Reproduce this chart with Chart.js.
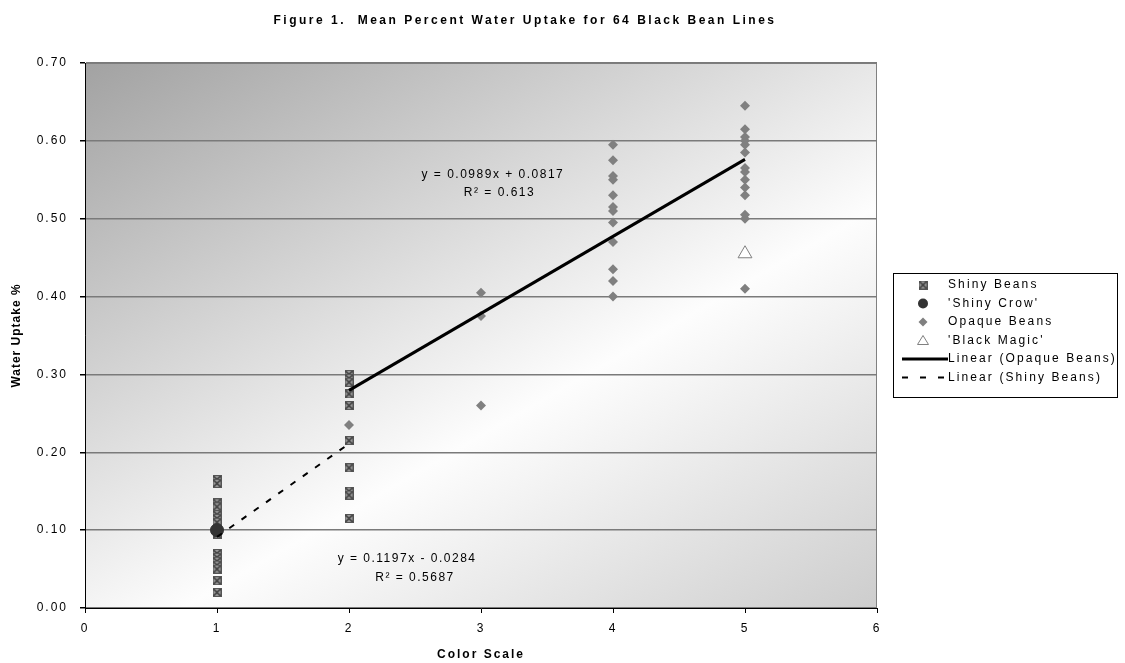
<!DOCTYPE html>
<html>
<head>
<meta charset="utf-8">
<script src="https://cdn.jsdelivr.net/npm/chart.js@4.4.0/dist/chart.umd.min.js"></script>
<style>
    html, body { margin: 0; padding: 0; background: #fff; }
    #wrap { width: 1125px; height: 663px; position: relative; }
</style>
</head>
<body>
<div id="wrap"><canvas id="beanChart"></canvas></div>
<script>
// values
const shinyAt1 = [0.165, 0.16, 0.135, 0.13, 0.12, 0.115, 0.11, 0.095, 0.07, 0.065, 0.06, 0.055, 0.05, 0.035, 0.02];
const shinyAt2 = [0.30, 0.295, 0.29, 0.275, 0.26, 0.215, 0.18, 0.15, 0.145, 0.115];
const shinyCrow = [{ x: 1, y: 0.10 }];
const opaqueAt2 = [0.235];
const opaqueAt3 = [0.405, 0.375, 0.26];
const opaqueAt4 = [0.595, 0.575, 0.555, 0.55, 0.53, 0.515, 0.51, 0.495, 0.47, 0.435, 0.42, 0.40];
const opaqueAt5 = [0.645, 0.615, 0.605, 0.60, 0.595, 0.585, 0.565, 0.56, 0.55, 0.54, 0.53, 0.505, 0.50, 0.41];
const blackMagic = [{ x: 5, y: 0.455 }];
// trend lines (end points of the fitted lines)
const opaqueTrend = [{ x: 2, y: 0.2795 }, { x: 5, y: 0.5762 }];
const shinyTrend = [{ x: 1, y: 0.0913 }, { x: 2, y: 0.2110 }];
const opaqueEq = ['y = 0.0989x + 0.0817', 'R² = 0.613'];
const shinyEq = ['y = 0.1197x - 0.0284', 'R² = 0.5687'];
const legendLabels = ['Shiny Beans', "'Shiny Crow'", 'Opaque Beans', "'Black Magic'", 'Linear (Opaque Beans)', 'Linear (Shiny Beans)'];

const FONT = '"Liberation Sans", Arial, sans-serif';

function pts(x, ys) {
    return ys.map(y => ({ x: x, y: y }));
}

// Excel style "x" marker: grey box with a dark cross
function makeXMarker() {
    const c = document.createElement('canvas');
    c.width = 9; c.height = 9;
    const g = c.getContext('2d');
    g.fillStyle = '#9a9a9a';
    g.fillRect(1, 1, 7, 7);
    g.strokeStyle = '#3c3c3c';
    g.lineWidth = 1.6;
    g.beginPath();
    g.moveTo(1, 1); g.lineTo(8, 8);
    g.moveTo(8, 1); g.lineTo(1, 8);
    g.stroke();
    g.lineWidth = 1;
    g.strokeStyle = '#555';
    g.strokeRect(0.5, 0.5, 8, 8);
    return c;
}
const xMarker = makeXMarker();

const chartDecor = {
    id: 'chartDecor',
    beforeDraw(chart) {
        const { ctx, chartArea: a } = chart;
        const w = a.right - a.left, h = a.bottom - a.top;
        // gradient runs steeply down-right from the top-left corner
        const len = w * 0.5 + h * 0.866;
        ctx.save();
        const grad = ctx.createLinearGradient(a.left, a.top, a.left + len * 0.5, a.top + len * 0.866);
        grad.addColorStop(0, '#a2a2a2');
        grad.addColorStop(0.6, '#fdfdfd');
        grad.addColorStop(1, '#cdcdcd');
        ctx.fillStyle = grad;
        ctx.fillRect(a.left, a.top, w, h);
        ctx.strokeStyle = '#808080';
        ctx.lineWidth = 1;
        ctx.strokeRect(a.left + 0.5, a.top + 0.5, w - 1, h - 1);
        ctx.restore();
        ctx.letterSpacing = '2px';
    },
    afterDraw(chart) {
        const { ctx, chartArea: a, scales: { x, y } } = chart;
        ctx.save();
        ctx.fillStyle = '#000';
        ctx.textBaseline = 'middle';
        ctx.textAlign = 'center';

        // title
        ctx.letterSpacing = '2.5px';
        ctx.font = 'bold 12px ' + FONT;
        ctx.fillText('Figure 1.  Mean Percent Water Uptake for 64 Black Bean Lines', 525, 21);

        // axis titles
        ctx.letterSpacing = '2px';
        ctx.fillText('Color Scale', (a.left + a.right) / 2, 655);
        ctx.save();
        ctx.translate(17, (a.top + a.bottom) / 2);
        ctx.rotate(-Math.PI / 2);
        ctx.letterSpacing = '1px';
        ctx.fillText('Water Uptake %', 0, 0);
        ctx.restore();

        // regression equations
        ctx.font = '12px ' + FONT;
        ctx.letterSpacing = '1.5px';
        ctx.fillText(opaqueEq[0], x.getPixelForValue(3.09), y.getPixelForValue(0.557));
        ctx.fillText(opaqueEq[1], x.getPixelForValue(3.14), y.getPixelForValue(0.533));
        ctx.fillText(shinyEq[0], x.getPixelForValue(2.44), y.getPixelForValue(0.063));
        ctx.fillText(shinyEq[1], x.getPixelForValue(2.5), y.getPixelForValue(0.0385));

        // legend
        const lx = 893, ly = 273, lw = 224, lh = 124;
        ctx.fillStyle = '#fff';
        ctx.fillRect(lx, ly, lw, lh);
        ctx.strokeStyle = '#000';
        ctx.lineWidth = 1;
        ctx.strokeRect(lx + 0.5, ly + 0.5, lw, lh);
        const rows = [285, 303.5, 322, 340.5, 359, 377.5];
        const mx = 923;
        ctx.letterSpacing = '2.1px';
        ctx.textAlign = 'left';
        legendLabels.forEach((label, i) => {
            const ry = rows[i];
            ctx.fillStyle = '#000';
            ctx.fillText(label, 948, ry);
            if (i === 0) {
                ctx.drawImage(xMarker, mx - 4.5, ry - 4.5);
            } else if (i === 1) {
                ctx.fillStyle = '#333';
                ctx.beginPath();
                ctx.arc(mx, ry, 5, 0, Math.PI * 2);
                ctx.fill();
            } else if (i === 2) {
                ctx.fillStyle = '#808080';
                ctx.beginPath();
                ctx.moveTo(mx, ry - 4.5); ctx.lineTo(mx + 4.5, ry);
                ctx.lineTo(mx, ry + 4.5); ctx.lineTo(mx - 4.5, ry);
                ctx.closePath();
                ctx.fill();
            } else if (i === 3) {
                ctx.strokeStyle = '#808080';
                ctx.fillStyle = '#fff';
                ctx.beginPath();
                ctx.moveTo(mx, ry - 5); ctx.lineTo(mx + 5.5, ry + 4); ctx.lineTo(mx - 5.5, ry + 4);
                ctx.closePath();
                ctx.fill(); ctx.stroke();
            } else {
                ctx.strokeStyle = '#000';
                ctx.lineWidth = i === 4 ? 3 : 2;
                ctx.setLineDash(i === 4 ? [] : [6, 12]);
                ctx.beginPath();
                ctx.moveTo(902, ry); ctx.lineTo(948, ry);
                ctx.stroke();
                ctx.setLineDash([]);
                ctx.lineWidth = 1;
            }
        });
        ctx.restore();
    }
};

const ctx = document.getElementById('beanChart').getContext('2d');
new Chart(ctx, {
    type: 'scatter',
    data: {
        datasets: [{
            label: 'Shiny Beans',
            data: pts(1, shinyAt1).concat(pts(2, shinyAt2)),
            pointStyle: xMarker,
            order: 3
        }, {
            label: "'Shiny Crow'",
            data: shinyCrow,
            pointStyle: 'circle',
            pointRadius: 6.5,
            backgroundColor: '#333',
            borderColor: '#333',
            order: 2
        }, {
            label: 'Opaque Beans',
            data: pts(2, opaqueAt2).concat(pts(3, opaqueAt3), pts(4, opaqueAt4), pts(5, opaqueAt5)),
            pointStyle: 'rectRot',
            pointRadius: 5,
            backgroundColor: '#808080',
            borderColor: '#808080',
            borderWidth: 0,
            order: 2
        }, {
            label: "'Black Magic'",
            data: blackMagic,
            pointStyle: 'triangle',
            pointRadius: 8,
            backgroundColor: '#fff',
            borderColor: '#808080',
            borderWidth: 1,
            order: 2
        }, {
            label: 'Linear (Opaque Beans)',
            data: opaqueTrend,
            showLine: true,
            pointRadius: 0,
            borderColor: '#000',
            borderWidth: 3,
            order: 0
        }, {
            label: 'Linear (Shiny Beans)',
            data: shinyTrend,
            showLine: true,
            pointRadius: 0,
            borderColor: '#000',
            borderWidth: 2,
            borderDash: [6, 9],
            order: 0
        }]
    },
    options: {
        responsive: true,
        maintainAspectRatio: false,
        animation: false,
        layout: { padding: { top: 63, right: 248, bottom: 0, left: 0 } },
        plugins: {
            legend: { display: false },
            tooltip: { enabled: false }
        },
        scales: {
            x: {
                type: 'linear',
                min: 0,
                max: 6,
                ticks: { stepSize: 1, color: '#000', padding: 8, font: { family: FONT, size: 12 } },
                grid: { drawOnChartArea: false, tickLength: 5, tickColor: '#000' },
                border: { color: '#000', width: 1 },
                afterFit: s => { s.height = 55; }
            },
            y: {
                min: 0,
                max: 0.7,
                ticks: {
                    stepSize: 0.1,
                    color: '#000',
                    padding: 12,
                    font: { family: FONT, size: 12 },
                    callback: v => v.toFixed(2)
                },
                grid: { color: '#7a7a7a', lineWidth: 1.5, tickLength: 5, tickColor: '#000' },
                border: { color: '#000', width: 1 },
                afterFit: s => { s.width = 85; }
            }
        }
    },
    plugins: [chartDecor]
});
</script>
</body>
</html>
